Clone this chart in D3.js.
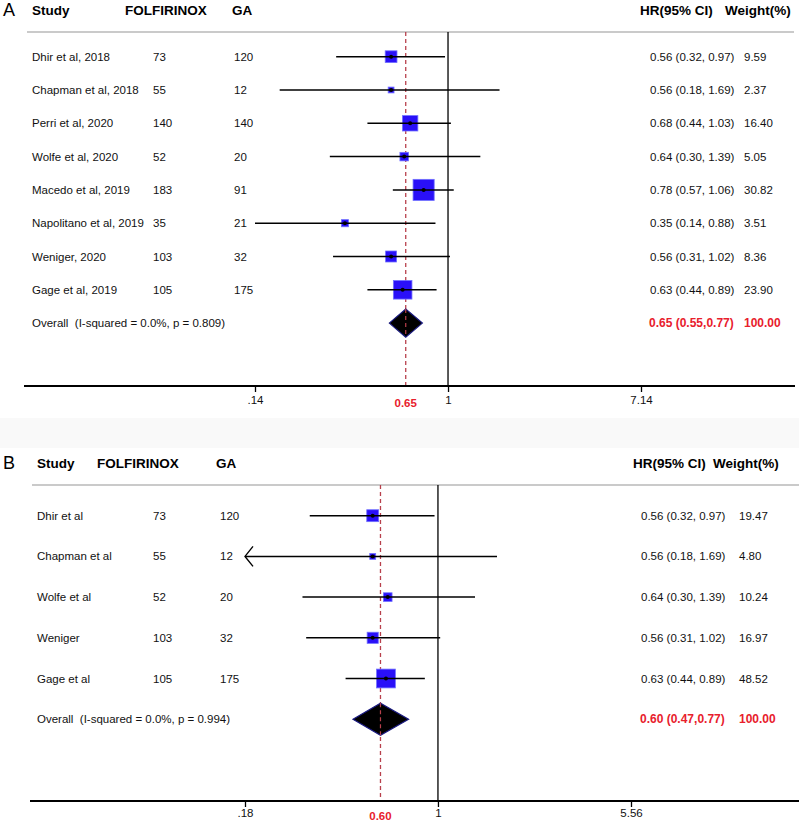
<!DOCTYPE html>
<html><head><meta charset="utf-8">
<script src="https://cdn.jsdelivr.net/npm/d3@7/dist/d3.min.js"></script>
<style>body{margin:0;background:#fff}svg{display:block}text{white-space:pre}</style>
</head><body>
<svg id="c" width="799" height="824"></svg>
<script>
// ---- Panel A data ----
const studiesA = ["Dhir et al, 2018","Chapman et al, 2018","Perri et al, 2020","Wolfe et al, 2020","Macedo et al, 2019","Napolitano et al, 2019","Weniger, 2020","Gage et al, 2019"];
const folfA = [73,55,140,52,183,35,103,105];
const gaA = [120,12,140,20,91,21,32,175];
const hrA = [0.56,0.56,0.68,0.64,0.78,0.35,0.56,0.63];
const lowA = [0.32,0.18,0.44,0.30,0.57,0.14,0.31,0.44];
const highA = [0.97,1.69,1.03,1.39,1.06,0.88,1.02,0.89];
const weightA = [9.59,2.37,16.40,5.05,30.82,3.51,8.36,23.90];
const overallA = {hr:0.65, low:0.55, high:0.77, label:"Overall  (I-squared = 0.0%, p = 0.809)"};
const ticksA = [0.14,1,7.14];
const tickLabelsA = [".14","1","7.14"];

// ---- Panel B data ----
const studiesB = ["Dhir et al","Chapman et al","Wolfe et al","Weniger","Gage et al"];
const folfB = [73,55,52,103,105];
const gaB = [120,12,20,32,175];
const hrB = [0.56,0.56,0.64,0.56,0.63];
const lowB = [0.32,0.18,0.30,0.31,0.44];
const highB = [0.97,1.69,1.39,1.02,0.89];
const weightB = [19.47,4.80,10.24,16.97,48.52];
const overallB = {hr:0.60, low:0.47, high:0.77, label:"Overall  (I-squared = 0.0%, p = 0.994)"};
const ticksB = [0.18,1,5.56];
const tickLabelsB = [".18","1","5.56"];

const svg = d3.select("#c");
const FONT = "'Liberation Sans', Arial, sans-serif";
const NARROW = "'Liberation Sans Narrow', 'Arial Narrow', 'Liberation Sans', sans-serif";
const BLUE = "#2a10f8", RED = "#e8202c", DASH = "#b8404c";
const f2 = d3.format(".2f");

// faint scan band between panels
svg.append("rect").attr("x",0).attr("y",418).attr("width",799).attr("height",30).attr("fill","#f9f9f9");

function panel(cfg){
  const g = svg.append("g");
  const x = d3.scaleLog().domain([cfg.ticks[0], cfg.ticks[2]]).range(cfg.xr);
  const y = d3.scaleLinear().domain([0,1]).range([cfg.y0, cfg.y0+cfg.step]);
  const n = cfg.studies.length;

  g.append("text").attr("x",3).attr("y",cfg.hy).attr("dominant-baseline","central")
    .attr("font-family",FONT).attr("font-size",18).attr("font-weight",300).text(cfg.letter);
  const hdr = [["Study",cfg.hx[0]],["FOLFIRINOX",cfg.hx[1]],["GA",cfg.hx[2]],["HR(95% CI)",cfg.hx[3]],["Weight(%)",cfg.hx[4]]];
  g.selectAll("text.h").data(hdr).join("text").attr("class","h")
    .attr("x",d=>d[1]).attr("y",cfg.hy).attr("dominant-baseline","central")
    .attr("font-family",FONT).attr("font-size",13.5).attr("font-weight","bold").text(d=>d[0]);
  g.append("line").attr("x1",cfg.sepX[0]).attr("x2",cfg.sepX[1]).attr("y1",cfg.sepY).attr("y2",cfg.sepY)
    .attr("stroke","#b8b8b8").attr("stroke-width",1.3);

  g.append("line").attr("x1",x(1)).attr("x2",x(1)).attr("y1",cfg.sepY).attr("y2",cfg.axisY)
    .attr("stroke","#000").attr("stroke-width",1.3);
  g.append("line").attr("x1",x(cfg.overall.hr)).attr("x2",x(cfg.overall.hr)).attr("y1",cfg.sepY).attr("y2",cfg.axisY)
    .attr("stroke",DASH).attr("stroke-width",1.3).attr("stroke-dasharray","4,3");

  const rows = d3.range(n).map(i=>({i, s:cfg.studies[i], f:cfg.folf[i], ga:cfg.ga[i], hr:cfg.hr[i], lo:cfg.low[i], hi:cfg.high[i], w:cfg.weight[i]}));
  const txt = (sel)=>sel.attr("dominant-baseline","central").attr("font-family",FONT).attr("font-size",11.5).attr("fill","#111");
  g.selectAll("text.s").data(rows).join("text").attr("class","s").attr("x",cfg.cx[0]).attr("y",d=>y(d.i)).call(txt).text(d=>d.s);
  g.selectAll("text.f").data(rows).join("text").attr("class","f").attr("x",cfg.cx[1]).attr("y",d=>y(d.i)).call(txt).text(d=>d.f);
  g.selectAll("text.g").data(rows).join("text").attr("class","g").attr("x",cfg.cx[2]).attr("y",d=>y(d.i)).call(txt).text(d=>d.ga);
  g.selectAll("text.r").data(rows).join("text").attr("class","r").attr("x",cfg.cx[3]).attr("y",d=>y(d.i)).call(txt)
    .text(d=>`${f2(d.hr)} (${f2(d.lo)}, ${f2(d.hi)})`);
  g.selectAll("text.w").data(rows).join("text").attr("class","w").attr("x",cfg.cx[4]).attr("y",d=>y(d.i)).call(txt).text(d=>f2(d.w));

  const dmin = x.domain()[0];
  g.selectAll("rect.sq").data(rows).join("rect").attr("class","sq")
    .attr("x",d=>x(d.hr)-cfg.k*Math.sqrt(d.w)/2).attr("y",d=>y(d.i)-cfg.k*Math.sqrt(d.w)/2)
    .attr("width",d=>cfg.k*Math.sqrt(d.w)).attr("height",d=>cfg.k*Math.sqrt(d.w))
    .attr("fill",BLUE).attr("stroke","#7070ff").attr("stroke-width",0.8);
  g.selectAll("line.ci").data(rows).join("line").attr("class","ci")
    .attr("x1",d=>x(Math.max(d.lo,dmin))).attr("x2",d=>x(d.hi)).attr("y1",d=>y(d.i)).attr("y2",d=>y(d.i))
    .attr("stroke","#000").attr("stroke-width",1.5);
  g.selectAll("path.ar").data(rows.filter(d=>d.lo<=dmin && cfg.arrow)).join("path").attr("class","ar")
    .attr("d",d=>`M${x(dmin)+8},${y(d.i)-10}L${x(dmin)},${y(d.i)}L${x(dmin)+8},${y(d.i)+10}`)
    .attr("fill","none").attr("stroke","#000").attr("stroke-width",1.4);
  g.selectAll("circle.pt").data(rows).join("circle").attr("class","pt")
    .attr("cx",d=>x(d.hr)).attr("cy",d=>y(d.i)).attr("r",2).attr("fill","#000");

  const oy = y(n), o = cfg.overall;
  g.append("text").attr("x",cfg.cx[0]).attr("y",oy).call(txt).text(o.label);
  g.append("path").attr("d",`M${x(o.low)},${oy}L${x(o.hr)},${oy-cfg.dh}L${x(o.high)},${oy}L${x(o.hr)},${oy+cfg.dh}Z`)
    .attr("fill","#000").attr("stroke","#1a1a80").attr("stroke-width",1.2);
  g.append("line").attr("x1",x(o.hr)).attr("x2",x(o.hr)).attr("y1",oy-cfg.dh).attr("y2",oy+cfg.dh)
    .attr("stroke",DASH).attr("stroke-width",1.2).attr("stroke-dasharray","4,3");
  g.append("text").attr("x",cfg.cx[3]-1).attr("y",oy).attr("dominant-baseline","central")
    .attr("font-family",FONT).attr("font-size",12).attr("font-weight","bold").attr("fill",RED)
    .text(`${f2(o.hr)} (${f2(o.low)},${f2(o.high)})`);
  g.append("text").attr("x",cfg.cx[4]).attr("y",oy).attr("dominant-baseline","central")
    .attr("font-family",FONT).attr("font-size",12).attr("font-weight","bold").attr("fill",RED).text("100.00");

  // axis
  const ax = g.append("g").attr("transform",`translate(0,${cfg.axisY})`)
    .call(d3.axisBottom(x).tickValues(cfg.ticks).tickSize(6).tickPadding(cfg.tp).tickFormat((d,i)=>cfg.tickLabels[i]));
  ax.select(".domain").remove();
  ax.selectAll(".tick line").attr("stroke","#000").attr("stroke-width",1.3);
  ax.selectAll(".tick text").attr("font-family",NARROW).attr("font-size",11.5).attr("fill","#111");
  g.append("line").attr("x1",cfg.axX[0]).attr("x2",cfg.axX[1]).attr("y1",cfg.axisY).attr("y2",cfg.axisY)
    .attr("stroke","#000").attr("stroke-width",2);
  g.append("text").attr("x",x(o.hr)).attr("y",cfg.axisY+cfg.lo).attr("dominant-baseline","central").attr("text-anchor","middle")
    .attr("font-family",FONT).attr("font-size",11.5).attr("font-weight","bold").attr("fill",RED).text(f2(o.hr));
}

panel({letter:"A", studies:studiesA, folf:folfA, ga:gaA, hr:hrA, low:lowA, high:highA, weight:weightA, overall:overallA,
  ticks:ticksA, tickLabels:tickLabelsA, xr:[255,641], y0:56.7, step:33.3, hy:10, hx:[32,125,232,640,725],
  sepY:32, sepX:[27,794], axisY:386, axX:[24,795], cx:[32,153,234,650,744], k:3.8, dh:14, arrow:false, tp:4, lo:17});

panel({letter:"B", studies:studiesB, folf:folfB, ga:gaB, hr:hrB, low:lowB, high:highB, weight:weightB, overall:overallB,
  ticks:ticksB, tickLabels:tickLabelsB, xr:[245,631], y0:515.7, step:40.7, hy:463, hx:[37,97,216,633,713],
  sepY:485, sepX:[32,799], axisY:801, axX:[30,799], cx:[37,153,220,641,739], k:2.7, dh:16, arrow:true, tp:2, lo:15});
</script>
</body></html>
